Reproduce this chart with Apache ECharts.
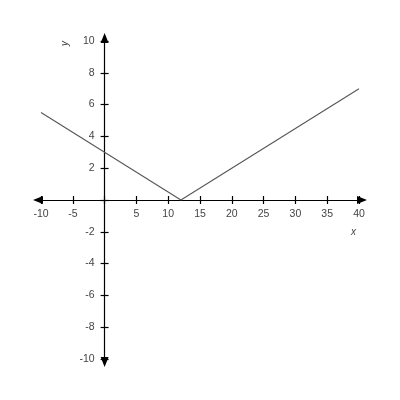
<!DOCTYPE html>
<html>
<head>
<meta charset="utf-8">
<script src="https://cdn.jsdelivr.net/npm/echarts@6/dist/echarts.min.js"></script>
<style>
  html, body { margin: 0; padding: 0; background: #fff; }
  #main { width: 400px; height: 400px; }
</style>
</head>
<body>
<div id="main"></div>
<script>
// y = |x - 12| / 4, drawn through its corner points
var xPoints = [-10, 12, 40];
var yPoints = [5.5, 0, 7];

var xMin = -10, xMax = 40, xStep = 5;
var yMin = -10, yMax = 10, yStep = 2;

var lineData = xPoints.map(function (x, i) { return [x, yPoints[i]]; });

var W = 400, H = 400, pad = 41;
var plotW = W - 2 * pad, plotH = H - 2 * pad;
// shift the axes from the grid edge to the zero lines
var xAxisOffset = -plotH * (0 - yMin) / (yMax - yMin);
var yAxisOffset = -plotW * (0 - xMin) / (xMax - xMin);

var chart = echarts.init(document.getElementById('main'), null, { renderer: 'canvas' });

function hideZero(v) { return v === 0 ? '' : String(v); }

var labelStyle = { color: '#444', fontFamily: 'Liberation Sans, Arial', fontSize: 10.5 };

function makeX(main) {
  return {
    type: 'value', min: xMin, max: xMax, interval: xStep,
    position: 'bottom', offset: xAxisOffset,
    axisLine: {
      show: main, onZero: false,
      lineStyle: { color: '#000', width: 1.2 },
      symbol: ['triangle', 'triangle'], symbolSize: [8, 10], symbolOffset: [-3, 3]
    },
    axisTick: { inside: !main, length: 4, lineStyle: { color: '#000', width: 1.2 } },
    axisLabel: main ? Object.assign({ margin: 9, formatter: hideZero }, labelStyle) : { show: false },
    splitLine: { show: false }
  };
}

function makeY(main) {
  return {
    type: 'value', min: yMin, max: yMax, interval: yStep,
    position: 'left', offset: yAxisOffset,
    axisLine: {
      show: main, onZero: false,
      lineStyle: { color: '#000', width: 1.2 },
      symbol: ['triangle', 'triangle'], symbolSize: [8, 10], symbolOffset: [-3, 3]
    },
    axisTick: { inside: !main, length: 4, lineStyle: { color: '#000', width: 1.2 } },
    axisLabel: main ? Object.assign({ margin: 10, formatter: hideZero }, labelStyle) : { show: false },
    splitLine: { show: false }
  };
}

chart.setOption({
  animation: false,
  backgroundColor: '#fff',
  grid: { left: pad, right: pad, top: pad, bottom: pad, containLabel: false },
  xAxis: [makeX(true), makeX(false)],
  yAxis: [makeY(true), makeY(false)],
  graphic: [
    {
      type: 'text', left: 351, top: 227,
      style: { text: 'x', fontStyle: 'italic', fontSize: 10, fill: '#444', fontFamily: 'Liberation Sans, Arial' }
    },
    {
      type: 'text', x: 60, y: 46, rotation: Math.PI / 2,
      style: { text: 'y', fontStyle: 'italic', fontSize: 10, fill: '#444', fontFamily: 'Liberation Sans, Arial' }
    }
  ],
  series: [{
    type: 'line',
    xAxisIndex: 0, yAxisIndex: 0,
    data: lineData,
    showSymbol: false,
    lineStyle: { color: '#5a5a5a', width: 1.2 }
  }]
});
</script>
</body>
</html>
